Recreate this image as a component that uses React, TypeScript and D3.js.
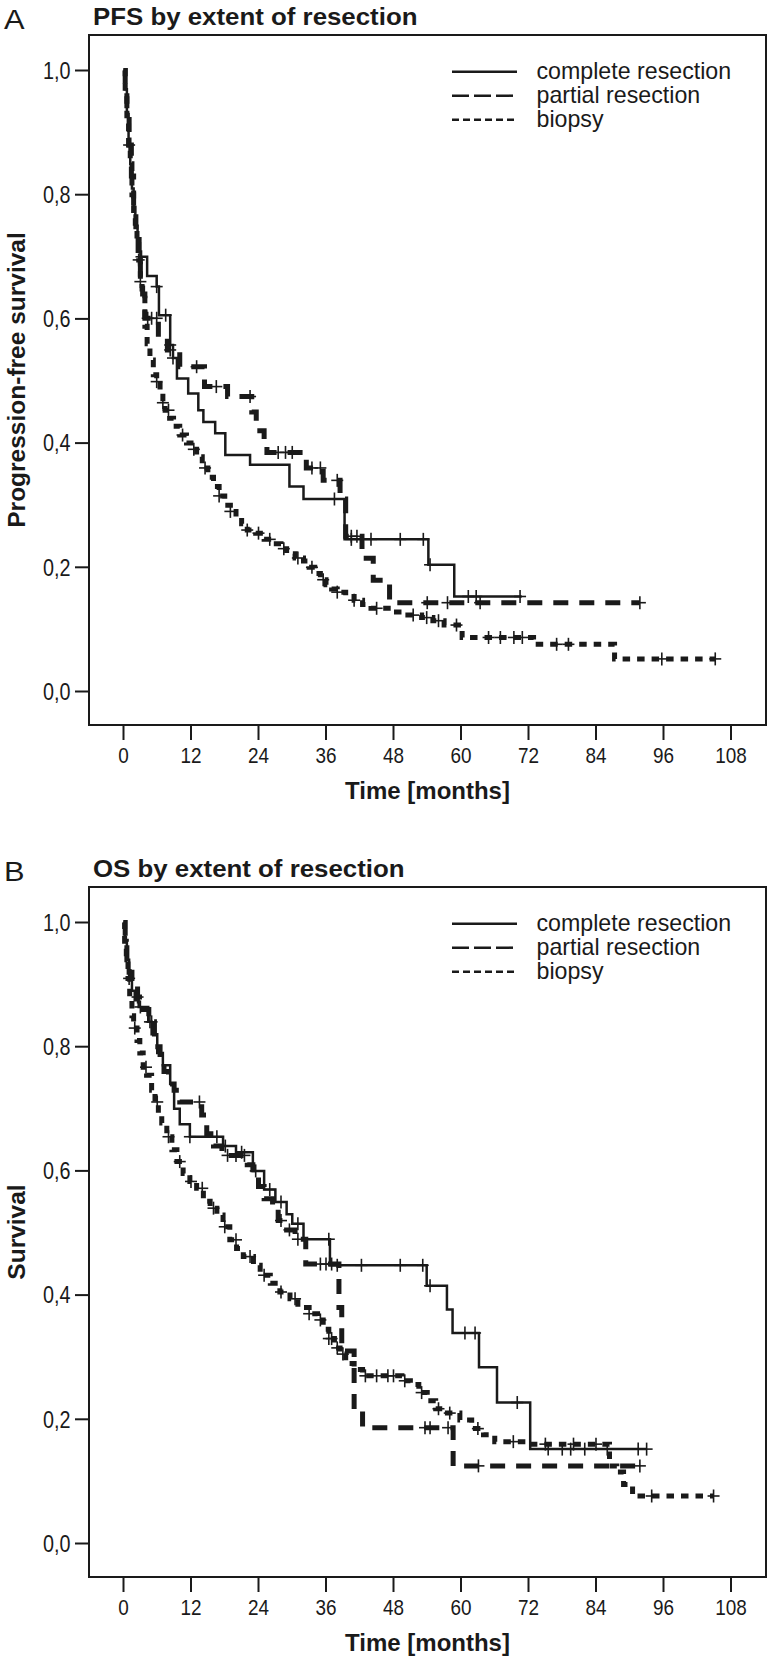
import React from "react";
import * as d3 from "d3";

// ---------- axis ticks ----------
const xTicks = [0, 12, 24, 36, 48, 60, 72, 84, 96, 108];
const yTicks = [0, 0.2, 0.4, 0.6, 0.8, 1.0];
const yTickLabels = ["0,0", "0,2", "0,4", "0,6", "0,8", "1,0"];
const legendLabels = ["complete resection", "partial resection", "biopsy"];

// ---------- Panel A : PFS ----------
const pfsCompleteT = [0.3, 0.6, 0.9, 1.2, 1.5, 1.8, 2.1, 2.5, 3.0, 4.2, 5.9, 6.3, 8.3, 8.8, 9.5, 11.5, 13.3, 14.2, 16.3, 18.1, 22.5, 29.5, 32, 39.3, 54.2, 58.8];
const pfsCompleteS = [0.97, 0.93, 0.89, 0.85, 0.81, 0.78, 0.75, 0.73, 0.70, 0.669, 0.652, 0.606, 0.558, 0.537, 0.504, 0.48, 0.453, 0.434, 0.416, 0.381, 0.365, 0.33, 0.31, 0.245, 0.204, 0.153];
const pfsCompleteEnd = 70.8;
const pfsCompleteCens = [3.2, 5.9, 7.5, 8.3, 8.8, 37.5, 40.5, 44, 49.2, 53.3, 54.5, 61.3, 62.7, 70.5];

const pfsPartialT = [0.3, 0.6, 1.0, 1.4, 1.8, 2.2, 2.6, 3.0, 3.4, 3.8, 6.2, 7.8, 10, 14.4, 18.5, 22.8, 23.6, 25, 25.5, 32.5, 35.5, 38.5, 39.5, 42.4, 44.4, 47.3];
const pfsPartialS = [0.97, 0.93, 0.88, 0.83, 0.78, 0.74, 0.70, 0.66, 0.64, 0.601, 0.571, 0.55, 0.523, 0.491, 0.475, 0.45, 0.42, 0.40, 0.385, 0.36, 0.34, 0.31, 0.25, 0.2145, 0.179, 0.143];
const pfsPartialEnd = 91.8;
const pfsPartialCens = [3.0, 4.3, 5.0, 5.9, 8.3, 13.0, 16.5, 22.5, 27.5, 28.8, 30, 33.5, 35, 38, 40.5, 41.5, 54, 57.6, 63.4, 91.8];

const pfsBiopsyT = [0.3, 0.6, 0.9, 1.2, 1.5, 1.8, 2.1, 2.4, 2.7, 3.0, 3.3, 3.8, 4.2, 4.7, 5.3, 5.9, 6.5, 7, 7.4, 8.2, 8.9, 10, 11.2, 12, 13, 14, 15, 16, 17, 18, 19, 20, 21, 22, 23.5, 25, 26.5, 28, 29, 30.5, 32, 33, 34, 35, 36, 37, 38, 39.5, 41, 42.5, 44, 48, 50, 53, 55, 57, 60.2, 72.9, 87.3];
const pfsBiopsyS = [0.96, 0.92, 0.88, 0.85, 0.80, 0.77, 0.75, 0.72, 0.695, 0.66, 0.64, 0.588, 0.56, 0.534, 0.51, 0.499, 0.48, 0.465, 0.453, 0.44, 0.427, 0.413, 0.40, 0.39, 0.378, 0.36, 0.345, 0.33, 0.315, 0.30, 0.29, 0.28, 0.27, 0.26, 0.255, 0.245, 0.238, 0.23, 0.222, 0.215, 0.21, 0.20, 0.19, 0.18, 0.172, 0.165, 0.16, 0.153, 0.147, 0.14, 0.134, 0.128, 0.123, 0.119, 0.114, 0.107, 0.087, 0.076, 0.0525];
const pfsBiopsyEnd = 105.2;
const pfsBiopsyCens = [1.0, 2.7, 5.9, 7, 8, 10.5, 12.5, 14.5, 17, 19, 22, 24, 26, 28.5, 31, 33.5, 35.5, 38, 41, 45, 51.5, 53.9, 56, 59.2, 64.9, 67, 69.4, 70.9, 77, 79.1, 95.7, 105.2];

// ---------- Panel B : OS ----------
const osCompleteT = [0.3, 0.6, 1, 1.5, 2, 2.7, 4.4, 5, 6, 7, 8.3, 9, 10, 11.8, 17.7, 20, 23, 25, 27, 29, 30, 32, 36.7, 53.9, 57.5, 58.5, 63.2, 66.4, 72.3];
const osCompleteS = [0.97, 0.94, 0.91, 0.89, 0.875, 0.864, 0.84, 0.82, 0.79, 0.77, 0.74, 0.70, 0.675, 0.655, 0.64, 0.63, 0.60, 0.57, 0.55, 0.53, 0.515, 0.49, 0.448, 0.415, 0.377, 0.339, 0.284, 0.227, 0.152];
const osCompleteEnd = 93;
const osCompleteCens = [1, 3, 4.7, 11.8, 16.6, 18.1, 21, 23.5, 26, 28, 31, 36.5, 38, 42.3, 49.2, 53.2, 54.5, 60.7, 62.5, 70, 75.5, 78, 79.5, 82, 86, 91.5, 93];

const osPartialT = [0.3, 0.6, 1, 1.5, 2.5, 3.5, 4.5, 5.5, 6.5, 7.2, 8, 9, 10, 13.9, 14.8, 16, 17.5, 22, 23, 24, 25, 26.5, 27.5, 29, 30.5, 32.4, 38.3, 38.8, 41, 42.5, 58.6];
const osPartialS = [0.97, 0.94, 0.92, 0.90, 0.88, 0.86, 0.84, 0.80, 0.78, 0.76, 0.74, 0.73, 0.711, 0.69, 0.66, 0.64, 0.625, 0.61, 0.59, 0.575, 0.555, 0.54, 0.52, 0.505, 0.49, 0.45, 0.38, 0.31, 0.215, 0.1865, 0.125];
const osPartialEnd = 91.8;
const osPartialCens = [2.5, 5, 13.5, 18.5, 20, 21.5, 28, 29.5, 31, 35, 36, 37, 53.6, 54.5, 57.7, 63.1, 91.8];

const osBiopsyT = [0.2, 0.5, 0.8, 1.1, 1.5, 1.8, 2.4, 2.9, 3.5, 4.1, 5.0, 5.6, 6.2, 6.8, 7.7, 8.6, 9.5, 10.6, 11.8, 13.0, 14.2, 15.4, 16.6, 17.7, 18.9, 20.1, 21.3, 23.1, 24.3, 26.1, 27.8, 29.6, 31, 33, 34.5, 35.5, 36.5, 37.5, 38.5, 39.5, 41, 42.5, 49.5, 51, 52.5, 54, 55.5, 57, 59.8, 61.9, 64, 66, 71.7, 86.4, 87.7, 88.9, 90.5];
const osBiopsyS = [0.97, 0.94, 0.91, 0.88, 0.85, 0.83, 0.81, 0.79, 0.767, 0.754, 0.73, 0.711, 0.693, 0.677, 0.655, 0.634, 0.615, 0.596, 0.583, 0.572, 0.551, 0.54, 0.529, 0.51, 0.489, 0.475, 0.462, 0.448, 0.432, 0.419, 0.405, 0.394, 0.38, 0.37, 0.36, 0.345, 0.33, 0.315, 0.305, 0.29, 0.28, 0.27, 0.262, 0.256, 0.243, 0.23, 0.217, 0.21, 0.199, 0.185, 0.175, 0.164, 0.16, 0.125, 0.115, 0.095, 0.0765];
const osBiopsyEnd = 104.9;
const osBiopsyCens = [2, 4, 6, 8, 10, 12, 14, 16, 18, 20, 22.5, 25, 28, 30.5, 33, 35, 36.5, 37, 38, 39, 43, 45, 47, 48, 50, 53, 56, 58, 63, 69.3, 75, 80, 84, 93.9, 104.9];

// ---------- styles ----------
const FONT = "'Liberation Sans', Arial, Helvetica, sans-serif";
const INK = "#1a1a1a";
const seriesStyles = [
  { width: 2.5, dash: null, legendDash: null },
  { width: 5, dash: "15 11", legendDash: "17 5" },
  { width: 5, dash: "7.5 7", legendDash: "7 4" },
];

type Series = { t: number[]; s: number[]; end: number; cens: number[] };

const survAt = (ser: Series, t: number) => {
  let v = 1;
  for (let i = 0; i < ser.t.length; i++) {
    if (ser.t[i] <= t + 1e-9) v = ser.s[i];
  }
  return v;
};

function Panel({ dy, letter, title, yTitle, series }: { dy: number; letter: string; title: string; yTitle: string; series: Series[] }) {
  const left = 89, right = 766, top = 35, bottom = 725;
  const x = d3.scaleLinear().domain([0, 108]).range([123.5, 731]);
  const y = d3.scaleLinear().domain([0, 1]).range([691.5, 70.5]);
  const line = d3
    .line<[number, number]>()
    .x((d) => x(d[0]))
    .y((d) => y(d[1]))
    .curve(d3.curveStepAfter);
  const cx = (left + right) / 2;
  const cy = (top + bottom) / 2;
  return (
    <g transform={`translate(0,${dy})`}>
      <text transform="translate(4,28.5) scale(1.1,1)" fontFamily={FONT} fontSize={28} fill={INK}>{letter}</text>
      <text transform="translate(93,25) scale(1.1,1)" fontFamily={FONT} fontSize={23.5} fontWeight="bold" fill={INK}>{title}</text>
      <rect x={left} y={top} width={right - left} height={bottom - top} fill="none" stroke={INK} strokeWidth={2} />
      {yTicks.map((v, i) => (
        <g key={"y" + i}>
          <line x1={75} x2={left} y1={y(v)} y2={y(v)} stroke={INK} strokeWidth={2} />
          <text transform={`translate(70.5,${y(v) + 8.2}) scale(0.86,1)`} textAnchor="end" fontFamily={FONT} fontSize={23} fill={INK}>{yTickLabels[i]}</text>
        </g>
      ))}
      {xTicks.map((v) => (
        <g key={"x" + v}>
          <line x1={x(v)} x2={x(v)} y1={bottom + 1} y2={bottom + 15} stroke={INK} strokeWidth={2} />
          <text transform={`translate(${x(v)},${763}) scale(0.86,1)`} textAnchor="middle" fontFamily={FONT} fontSize={22} fill={INK}>{v}</text>
        </g>
      ))}
      <text x={cx} y={799} textAnchor="middle" fontFamily={FONT} fontSize={24} fontWeight="bold" fill={INK}>Time [months]</text>
      <text transform={`translate(25,${cy}) rotate(-90)`} textAnchor="middle" fontFamily={FONT} fontSize={24.5} fontWeight="bold" fill={INK}>{yTitle}</text>
      {series.map((ser, k) => {
        const pts: [number, number][] = [[0, 1]];
        ser.t.forEach((t, i) => pts.push([t, ser.s[i]]));
        pts.push([ser.end, ser.s[ser.s.length - 1]]);
        const st = seriesStyles[k];
        return (
          <g key={"s" + k}>
            <path d={line(pts) || ""} fill="none" stroke={INK} strokeWidth={st.width} strokeDasharray={st.dash || undefined} strokeLinejoin="miter" />
            {ser.cens.map((c, j) => {
              const px = x(c), py = y(survAt(ser, c));
              return (
                <g key={"c" + j}>
                  <line x1={px} x2={px} y1={py - 6.5} y2={py + 6.5} stroke={INK} strokeWidth={1.6} />
                  <line x1={px - 6} x2={px + 6} y1={py} y2={py} stroke={INK} strokeWidth={1.6} />
                </g>
              );
            })}
          </g>
        );
      })}
      {legendLabels.map((lab, k) => {
        const ly = 71.7 + k * 24;
        const st = seriesStyles[k];
        return (
          <g key={"l" + k}>
            <line x1={452} x2={517} y1={ly} y2={ly} stroke={INK} strokeWidth={2.5} strokeDasharray={st.legendDash || undefined} />
            <text x={536.5} y={ly + 6.8} fontFamily={FONT} fontSize={23.2} fill={INK}>{lab}</text>
          </g>
        );
      })}
    </g>
  );
}

export default function App() {
  const pfs: Series[] = [
    { t: pfsCompleteT, s: pfsCompleteS, end: pfsCompleteEnd, cens: pfsCompleteCens },
    { t: pfsPartialT, s: pfsPartialS, end: pfsPartialEnd, cens: pfsPartialCens },
    { t: pfsBiopsyT, s: pfsBiopsyS, end: pfsBiopsyEnd, cens: pfsBiopsyCens },
  ];
  const os: Series[] = [
    { t: osCompleteT, s: osCompleteS, end: osCompleteEnd, cens: osCompleteCens },
    { t: osPartialT, s: osPartialS, end: osPartialEnd, cens: osPartialCens },
    { t: osBiopsyT, s: osBiopsyS, end: osBiopsyEnd, cens: osBiopsyCens },
  ];
  return (
    <svg width={772} height={1663} style={{ display: "block", position: "absolute", left: 0, top: 0, background: "#fff" }}>
      <rect width={772} height={1663} fill="#fff" />
      <Panel dy={0} letter="A" title="PFS by extent of resection" yTitle="Progression-free survival" series={pfs} />
      <Panel dy={852} letter="B" title="OS by extent of resection" yTitle="Survival" series={os} />
    </svg>
  );
}
